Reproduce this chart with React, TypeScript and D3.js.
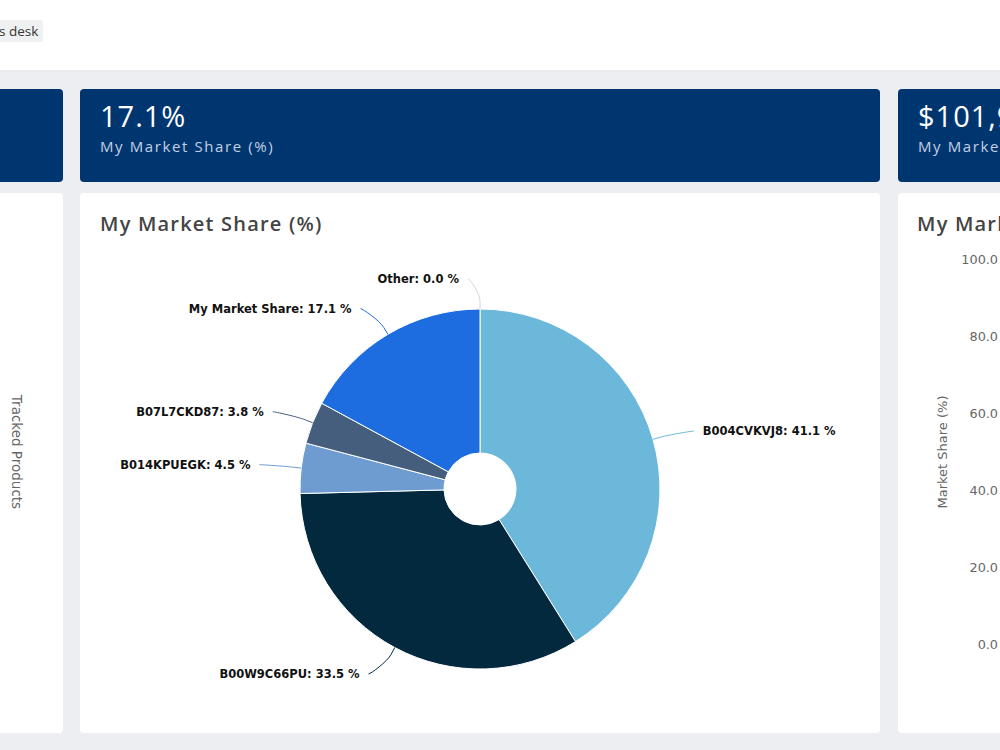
import React from "react";
import * as d3 from "d3";

// Market share split by product (percent)
const shareLabels = ["B004CVKVJ8", "B00W9C66PU", "B014KPUEGK", "B07L7CKD87", "My Market Share", "Other"];
const shareValues = [41.1, 33.5, 4.5, 3.8, 17.1, 0.0];
const sliceColors = ["#6cb8db", "#03293f", "#6e9bd0", "#465e7e", "#1d6ce0", "#d6d6d6"];

// KPI cards
const kpiValues = ["17.1%", "$101,942"];
const kpiCaptions = ["My Market Share (%)", "My Market Size ($)"];

// Right-hand panel axis
const axisTicks = [0, 20, 40, 60, 80, 100];

const W = 1000;
const H = 750;
const BG = "#eceef2";
const NAVY = "#003670";
const TITLE_FONT = "'Open Sans', Lato, sans-serif";
const CHART_FONT = "'DejaVu Sans', Verdana, sans-serif";

export default function App() {
  const cx = 480;
  const cy = 489;
  const r = 180;
  const inner = 36;
  const labelDist = 30;

  const pie = d3
    .pie<number>()
    .sort(null)
    .value((d) => d)
    .startAngle(0)
    .endAngle(Math.PI * 2);
  const arcs = pie(shareValues);
  const arc = d3.arc<d3.PieArcDatum<number>>().innerRadius(inner).outerRadius(r);

  const yScale = d3.scaleLinear().domain([0, 100]).range([645, 260]);

  const polar = (a: number, rad: number) => [cx + Math.sin(a) * rad, cy - Math.cos(a) * rad];

  return (
    <svg
      width={W}
      height={H}
      viewBox={`0 0 ${W} ${H}`}
      style={{ position: "absolute", left: 0, top: 0, display: "block" }}
    >
      {/* page background */}
      <rect x={0} y={0} width={W} height={H} fill={BG} />
      <rect x={0} y={0} width={W} height={70} fill="#ffffff" />
      <rect x={0} y={70} width={W} height={2} fill="#e4e6ea" opacity={0.6} />

      {/* breadcrumb tag */}
      <rect x={-6} y={20} width={49} height={22} rx={3} fill="#eff0f1" />
      <text x={-1} y={35.5} fontFamily={TITLE_FONT} fontSize={13.5} fill="#333">
        s desk
      </text>

      {/* KPI cards */}
      <rect x={-20} y={89} width={83} height={93} rx={4} fill={NAVY} />
      <rect x={80} y={89} width={800} height={93} rx={4} fill={NAVY} />
      <rect x={898} y={89} width={200} height={93} rx={4} fill={NAVY} />
      {[100, 918].map((x, i) => (
        <g key={i}>
          <text x={x} y={127} fontFamily={TITLE_FONT} fontSize={29} letterSpacing={1} fill="#ffffff">
            {kpiValues[i]}
          </text>
          <text x={x} y={152} fontFamily={TITLE_FONT} fontSize={15} letterSpacing={1.6} fill="#c3d0e3">
            {kpiCaptions[i]}
          </text>
        </g>
      ))}

      {/* panels */}
      <rect x={-20} y={193} width={83} height={540} rx={4} fill="#ffffff" />
      <rect x={80} y={193} width={800} height={540} rx={4} fill="#ffffff" />
      <rect x={898} y={193} width={200} height={540} rx={4} fill="#ffffff" />

      {/* left panel axis title */}
      <text
        transform={`translate(12,452) rotate(90)`}
        textAnchor="middle"
        fontFamily={CHART_FONT}
        fontSize={13.5}
        fill="#666"
      >
        Tracked Products
      </text>

      {/* middle panel: pie */}
      <text x={100} y={231} fontFamily={TITLE_FONT} fontSize={20} fontWeight={600} letterSpacing={1.2} fill="#444">
        My Market Share (%)
      </text>
      <g transform={`translate(${cx},${cy})`}>
        {arcs.map((a, i) =>
          a.endAngle - a.startAngle > 0 ? (
            <path key={i} d={arc(a) || ""} fill={sliceColors[i]} stroke="#ffffff" strokeWidth={1} />
          ) : null
        )}
      </g>
      {arcs.map((a, i) => {
        const mid = (a.startAngle + a.endAngle) / 2;
        const side = Math.sin(mid) >= 0 ? 1 : -1;
        const [lx, ly] = polar(mid, r + labelDist);
        const [bx, by] = polar(mid, r + 8);
        const [ex, ey] = polar(mid, r);
        const sx = lx + side * 10;
        const path = `M${sx + side * 2},${ly} C${sx},${ly} ${2 * bx - ex},${2 * by - ey} ${bx},${by} L${ex},${ey}`;
        return (
          <g key={`l${i}`}>
            <path d={path} fill="none" stroke={sliceColors[i]} strokeWidth={1} />
            <text
              x={lx + side * 21}
              y={ly}
              dy="0.35em"
              textAnchor={side > 0 ? "start" : "end"}
              fontFamily={CHART_FONT}
              fontSize={11.5}
              fontWeight="bold"
              fill="#111"
              stroke="#fff"
              strokeWidth={1}
              paintOrder="stroke"
            >
              {`${shareLabels[i]}: ${shareValues[i].toFixed(1)} %`}
            </text>
          </g>
        );
      })}

      {/* right panel */}
      <text x={917} y={231} fontFamily={TITLE_FONT} fontSize={20} fontWeight={600} letterSpacing={1.2} fill="#444">
        My Market Share Trend
      </text>
      <text
        transform={`translate(947,452) rotate(-90)`}
        textAnchor="middle"
        fontFamily={CHART_FONT}
        fontSize={13}
        fill="#666"
      >
        Market Share (%)
      </text>
      {axisTicks.map((t) => (
        <text
          key={t}
          x={998}
          y={yScale(t)}
          dy="0.35em"
          textAnchor="end"
          fontFamily={CHART_FONT}
          fontSize={12.8}
          fill="#666"
        >
          {t.toFixed(1)}
        </text>
      ))}
    </svg>
  );
}
